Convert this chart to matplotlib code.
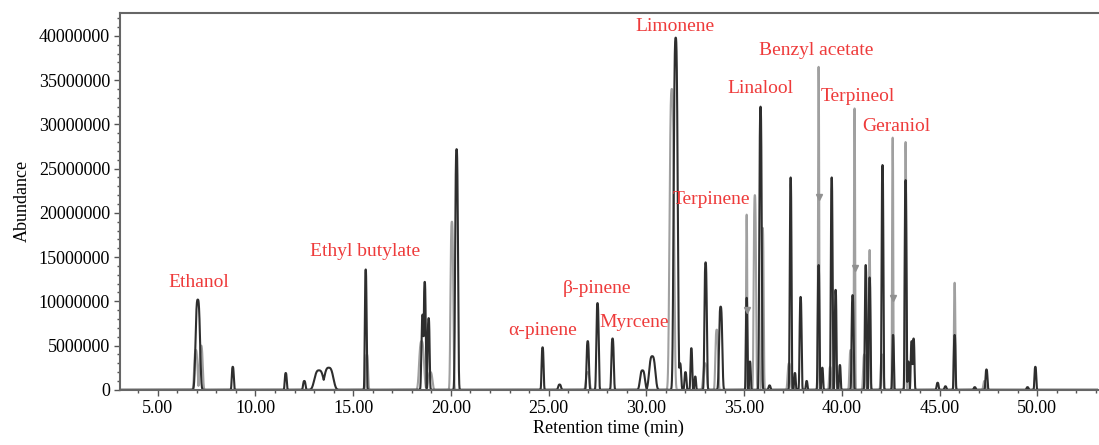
import numpy as np
import matplotlib.pyplot as plt
from matplotlib.ticker import MultipleLocator, FixedLocator

plt.rcParams['font.family'] = ['Liberation Serif', 'DejaVu Serif']

# peak table: retention time (min), abundance, peak half-width (min)
# dark trace
black_rt = [7.05, 8.84, 11.55, 12.5, 13.25, 13.75, 15.64, 18.55, 18.66, 18.86, 20.29,
            24.69, 25.56, 27.0, 27.5, 28.27, 29.8, 30.3, 31.5, 31.72, 32.0, 32.3, 32.5,
            33.03, 33.8, 35.13, 35.3, 35.84, 36.3, 37.38, 37.6, 37.89, 38.2, 38.81, 39.0,
            39.48, 39.68, 39.9, 40.55, 41.22, 41.42, 42.08, 42.62, 43.26, 43.4, 43.57, 43.67,
            44.9, 45.3, 45.77, 46.8, 47.4, 49.5, 49.9]
black_h = [10.2e6, 2.6e6, 1.9e6, 1.0e6, 2.2e6, 2.5e6, 13.6e6, 8.5e6, 12.2e6, 8.1e6, 27.2e6,
           4.8e6, 0.6e6, 5.5e6, 9.8e6, 5.8e6, 2.2e6, 3.8e6, 39.8e6, 3.0e6, 2.0e6, 4.7e6, 1.5e6,
           14.4e6, 9.4e6, 10.4e6, 3.2e6, 32.0e6, 0.5e6, 24.0e6, 1.9e6, 10.5e6, 1.0e6, 14.1e6, 2.5e6,
           24.0e6, 11.3e6, 2.8e6, 10.7e6, 14.1e6, 12.7e6, 25.4e6, 6.2e6, 23.7e6, 3.2e6, 5.5e6, 5.8e6,
           0.8e6, 0.4e6, 6.2e6, 0.3e6, 2.3e6, 0.3e6, 2.6e6]
black_w = [0.11, 0.05, 0.05, 0.06, 0.22, 0.22, 0.045, 0.06, 0.05, 0.05, 0.07,
           0.05, 0.07, 0.06, 0.06, 0.06, 0.12, 0.15, 0.1, 0.06, 0.05, 0.045, 0.04,
           0.06, 0.08, 0.04, 0.04, 0.06, 0.05, 0.045, 0.04, 0.05, 0.04, 0.045, 0.04,
           0.045, 0.045, 0.04, 0.05, 0.045, 0.045, 0.045, 0.04, 0.045, 0.04, 0.045, 0.045,
           0.05, 0.05, 0.045, 0.05, 0.05, 0.05, 0.045]

# lighter overlaid trace
gray_rt = [6.95, 7.22, 15.7, 18.5, 18.95, 20.05, 27.0, 31.3, 33.0, 33.6, 35.13, 35.55, 35.95,
           37.3, 38.81, 39.4, 39.65, 40.45, 40.65, 41.15, 41.42, 42.05, 42.6, 43.26, 45.77, 47.3]
gray_h = [4.5e6, 5.0e6, 4.0e6, 5.5e6, 2.0e6, 19.0e6, 2.0e6, 34.0e6, 3.0e6, 6.8e6, 19.8e6, 22.0e6, 18.3e6,
          3.0e6, 36.5e6, 2.6e6, 7.0e6, 4.5e6, 31.8e6, 4.0e6, 15.8e6, 4.0e6, 28.5e6, 28.0e6, 12.1e6, 1.0e6]
gray_w = [0.08, 0.08, 0.06, 0.12, 0.1, 0.07, 0.09, 0.11, 0.09, 0.07, 0.03, 0.06, 0.05,
          0.07, 0.03, 0.05, 0.05, 0.06, 0.03, 0.06, 0.035, 0.06, 0.03, 0.035, 0.035, 0.06]

# arrow marks on the overlaid trace
mark_rt = [35.13, 38.81, 40.65, 42.6]
mark_h = [9.0e6, 21.8e6, 13.8e6, 10.4e6]

# compound labels
names = ['Ethanol', 'Ethyl butylate', 'α-pinene', 'β-pinene', 'Myrcene', 'Limonene',
         'Terpinene', 'Linalool', 'Benzyl acetate', 'Terpineol', 'Geraniol']
name_rt = [7.1, 15.6, 24.7, 27.45, 29.35, 31.45, 33.33, 35.84, 38.7, 40.8, 42.8]
name_h = [12.1e6, 15.6e6, 6.7e6, 11.5e6, 7.6e6, 41.1e6, 21.5e6, 34.0e6, 38.3e6, 33.1e6, 29.8e6]


def trace(t, rts, hs, ws):
    # flat-sided peak shape, overlapping peaks take the upper envelope
    y = np.zeros_like(t)
    for r, h, w in zip(rts, hs, ws):
        y = np.maximum(y, h * np.exp(-0.5 * np.abs((t - r) / w) ** 3))
    return y


t = np.linspace(3.0, 53.2, 30000)

fig = plt.figure(figsize=(10.99, 4.45), dpi=100)
ax = fig.add_axes([0.109, 0.124, 0.89, 0.847])

ax.plot(t, trace(t, gray_rt, gray_h, gray_w), color='#a0a0a0', lw=1.5)
ax.plot(t, trace(t, black_rt, black_h, black_w), color='#2e2e2e', lw=1.5)
ax.plot(mark_rt, mark_h, 'v', color='#909090', ms=5)

for n, r, h in zip(names, name_rt, name_h):
    ax.text(r, h, n, color='#ee3b3b', fontsize=14, ha='center', va='center')

ax.set_xlim(3.06, 53.1)
ax.set_ylim(0, 42.6e6)
xt = [5, 10, 15, 20, 25, 30, 35, 40, 45, 50]
ax.xaxis.set_major_locator(FixedLocator(xt))
ax.xaxis.set_minor_locator(MultipleLocator(1))
ax.set_xticklabels(['%.2f' % v for v in xt])
yt = np.arange(0, 45e6, 5e6)
ax.yaxis.set_major_locator(FixedLocator(yt))
ax.yaxis.set_minor_locator(MultipleLocator(1e6))
ax.set_yticklabels(['%d' % v for v in yt])

ax.tick_params(which='major', labelsize=13, length=4, width=1, color='#555555', pad=3)
ax.tick_params(which='minor', length=2, width=1, color='#555555')

for s in ['left', 'bottom', 'top']:
    ax.spines[s].set_color('#666666')
    ax.spines[s].set_linewidth(1.5)
ax.spines['right'].set_visible(False)

ax.set_ylabel('Abundance', fontsize=13, labelpad=6)
ax.set_xlabel('Retention time (min)', fontsize=13, labelpad=2)

fig.savefig('out.png', dpi=100)
